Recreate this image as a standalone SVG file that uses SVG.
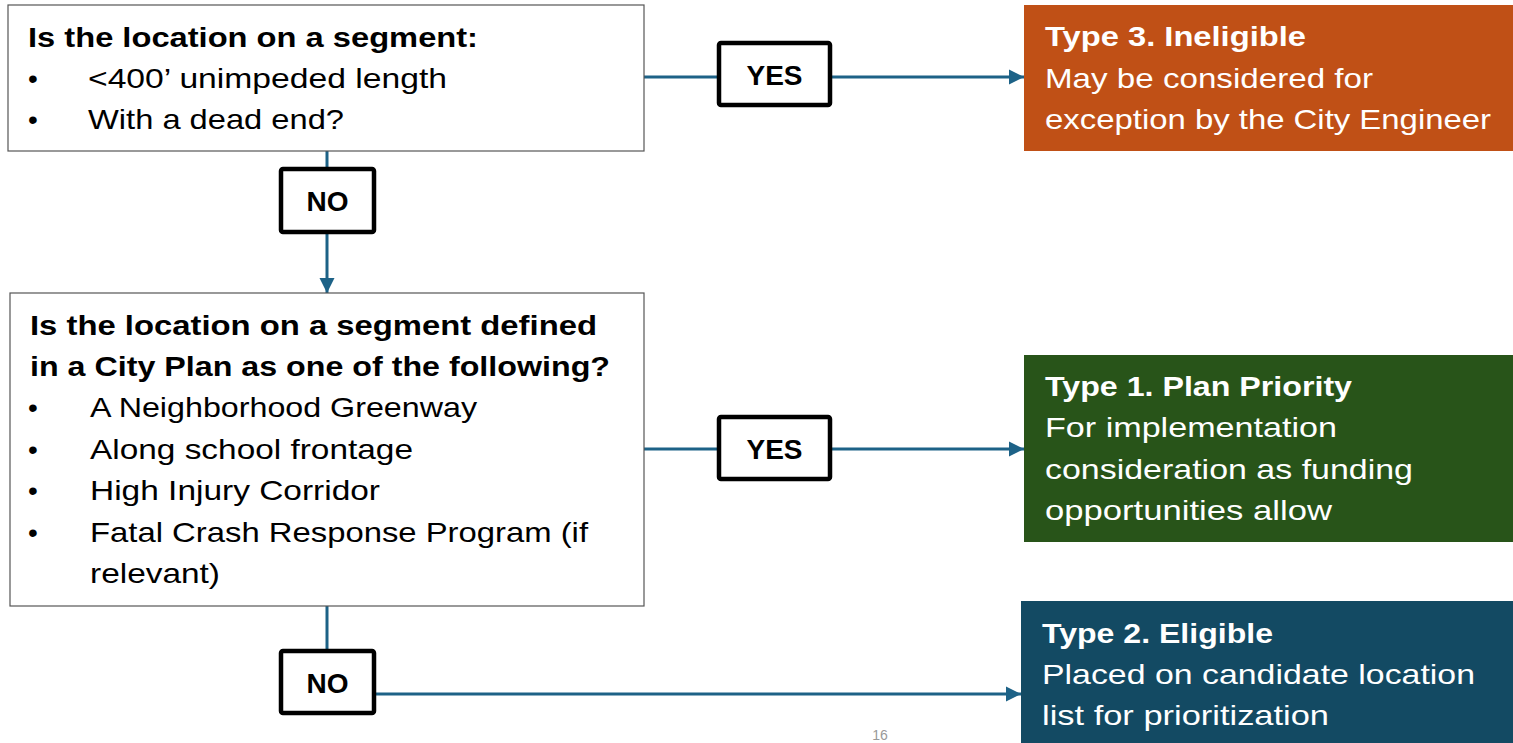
<svg xmlns="http://www.w3.org/2000/svg" width="1513" height="743" viewBox="0 0 1513 743">
<style>
text{font-family:"Liberation Sans",Arial,sans-serif;font-size:28px}
.b{font-weight:bold}
.q{fill:#fff;stroke:#555;stroke-width:1.2}
.lbl{fill:#fff;stroke:#000;stroke-width:4.5}
.lt{font-weight:bold;text-anchor:middle;fill:#000}
.w{fill:#fff}
.k{fill:#000}
.c{stroke:#1D6287;stroke-width:3;fill:none}
</style>
<defs>
<marker id="ah" viewBox="0 0 10 10" refX="10" refY="5" markerWidth="5" markerHeight="5.5" markerUnits="strokeWidth" orient="auto">
<path d="M0,0 L10,5 L0,10 z" fill="#1D6287"/>
</marker>
</defs>
<rect width="1513" height="743" fill="#fff"/>
<g id="connectors">
<path class="c" d="M644,77 H718"/>
<path class="c" d="M831,77 H1024" marker-end="url(#ah)"/>
<path class="c" d="M327,151 V168"/>
<path class="c" d="M327,233 V293" marker-end="url(#ah)"/>
<path class="c" d="M644,449 H718"/>
<path class="c" d="M831,449 H1024" marker-end="url(#ah)"/>
<path class="c" d="M327,606 V650"/>
<path class="c" d="M375,694 H1021" marker-end="url(#ah)"/>
</g>
<g id="q1">
<rect class="q" x="8" y="5" width="636" height="146"/>
<text class="b k" x="28" y="47" textLength="450" lengthAdjust="spacingAndGlyphs">Is the location on a segment:</text>
<text class="k" x="28" y="88">•</text>
<text class="k" x="88" y="88" textLength="359" lengthAdjust="spacingAndGlyphs">&lt;400’ unimpeded length</text>
<text class="k" x="28" y="129">•</text>
<text class="k" x="88" y="129" textLength="256" lengthAdjust="spacingAndGlyphs">With a dead end?</text>
</g>
<g id="no1">
<rect class="lbl" x="281" y="169" width="93" height="63" rx="2"/>
<text class="lt" x="327.5" y="211">NO</text>
</g>
<g id="yes1">
<rect class="lbl" x="719" y="43" width="111" height="62" rx="2"/>
<text class="lt" x="774.5" y="85">YES</text>
</g>
<g id="t3">
<rect x="1024" y="5" width="489" height="146" fill="#C05016"/>
<text class="b w" x="1045" y="46" textLength="261" lengthAdjust="spacingAndGlyphs">Type 3. Ineligible</text>
<text class="w" x="1045" y="88" textLength="328" lengthAdjust="spacingAndGlyphs">May be considered for</text>
<text class="w" x="1045" y="129" textLength="446" lengthAdjust="spacingAndGlyphs">exception by the City Engineer</text>
</g>
<g id="q2">
<rect class="q" x="10" y="293" width="634" height="313"/>
<text class="b k" x="30" y="335" textLength="567" lengthAdjust="spacingAndGlyphs">Is the location on a segment defined</text>
<text class="b k" x="30" y="376" textLength="580" lengthAdjust="spacingAndGlyphs">in a City Plan as one of the following?</text>
<text class="k" x="28" y="417">•</text>
<text class="k" x="90" y="417" textLength="387" lengthAdjust="spacingAndGlyphs">A Neighborhood Greenway</text>
<text class="k" x="28" y="459">•</text>
<text class="k" x="90" y="459" textLength="323" lengthAdjust="spacingAndGlyphs">Along school frontage</text>
<text class="k" x="28" y="500">•</text>
<text class="k" x="90" y="500" textLength="290" lengthAdjust="spacingAndGlyphs">High Injury Corridor</text>
<text class="k" x="28" y="542">•</text>
<text class="k" x="90" y="542" textLength="498" lengthAdjust="spacingAndGlyphs">Fatal Crash Response Program (if</text>
<text class="k" x="90" y="583" textLength="130" lengthAdjust="spacingAndGlyphs">relevant)</text>
</g>
<g id="yes2">
<rect class="lbl" x="719" y="417" width="111" height="62" rx="2"/>
<text class="lt" x="774.5" y="459">YES</text>
</g>
<g id="t1">
<rect x="1024" y="355" width="489" height="187" fill="#285419"/>
<text class="b w" x="1045" y="396" textLength="307" lengthAdjust="spacingAndGlyphs">Type 1. Plan Priority</text>
<text class="w" x="1045" y="437" textLength="292" lengthAdjust="spacingAndGlyphs">For implementation</text>
<text class="w" x="1045" y="479" textLength="368" lengthAdjust="spacingAndGlyphs">consideration as funding</text>
<text class="w" x="1045" y="520" textLength="287" lengthAdjust="spacingAndGlyphs">opportunities allow</text>
</g>
<g id="no2">
<rect class="lbl" x="281" y="651" width="93" height="62" rx="2"/>
<text class="lt" x="327.5" y="693">NO</text>
</g>
<g id="t2">
<rect x="1021" y="601" width="492" height="142" fill="#134A63"/>
<text class="b w" x="1042" y="643" textLength="231" lengthAdjust="spacingAndGlyphs">Type 2. Eligible</text>
<text class="w" x="1042" y="684" textLength="433" lengthAdjust="spacingAndGlyphs">Placed on candidate location</text>
<text class="w" x="1042" y="725" textLength="287" lengthAdjust="spacingAndGlyphs">list for prioritization</text>
</g>
<text x="880" y="740" fill="#999" text-anchor="middle" style="font-size:14px">16</text>
</svg>
